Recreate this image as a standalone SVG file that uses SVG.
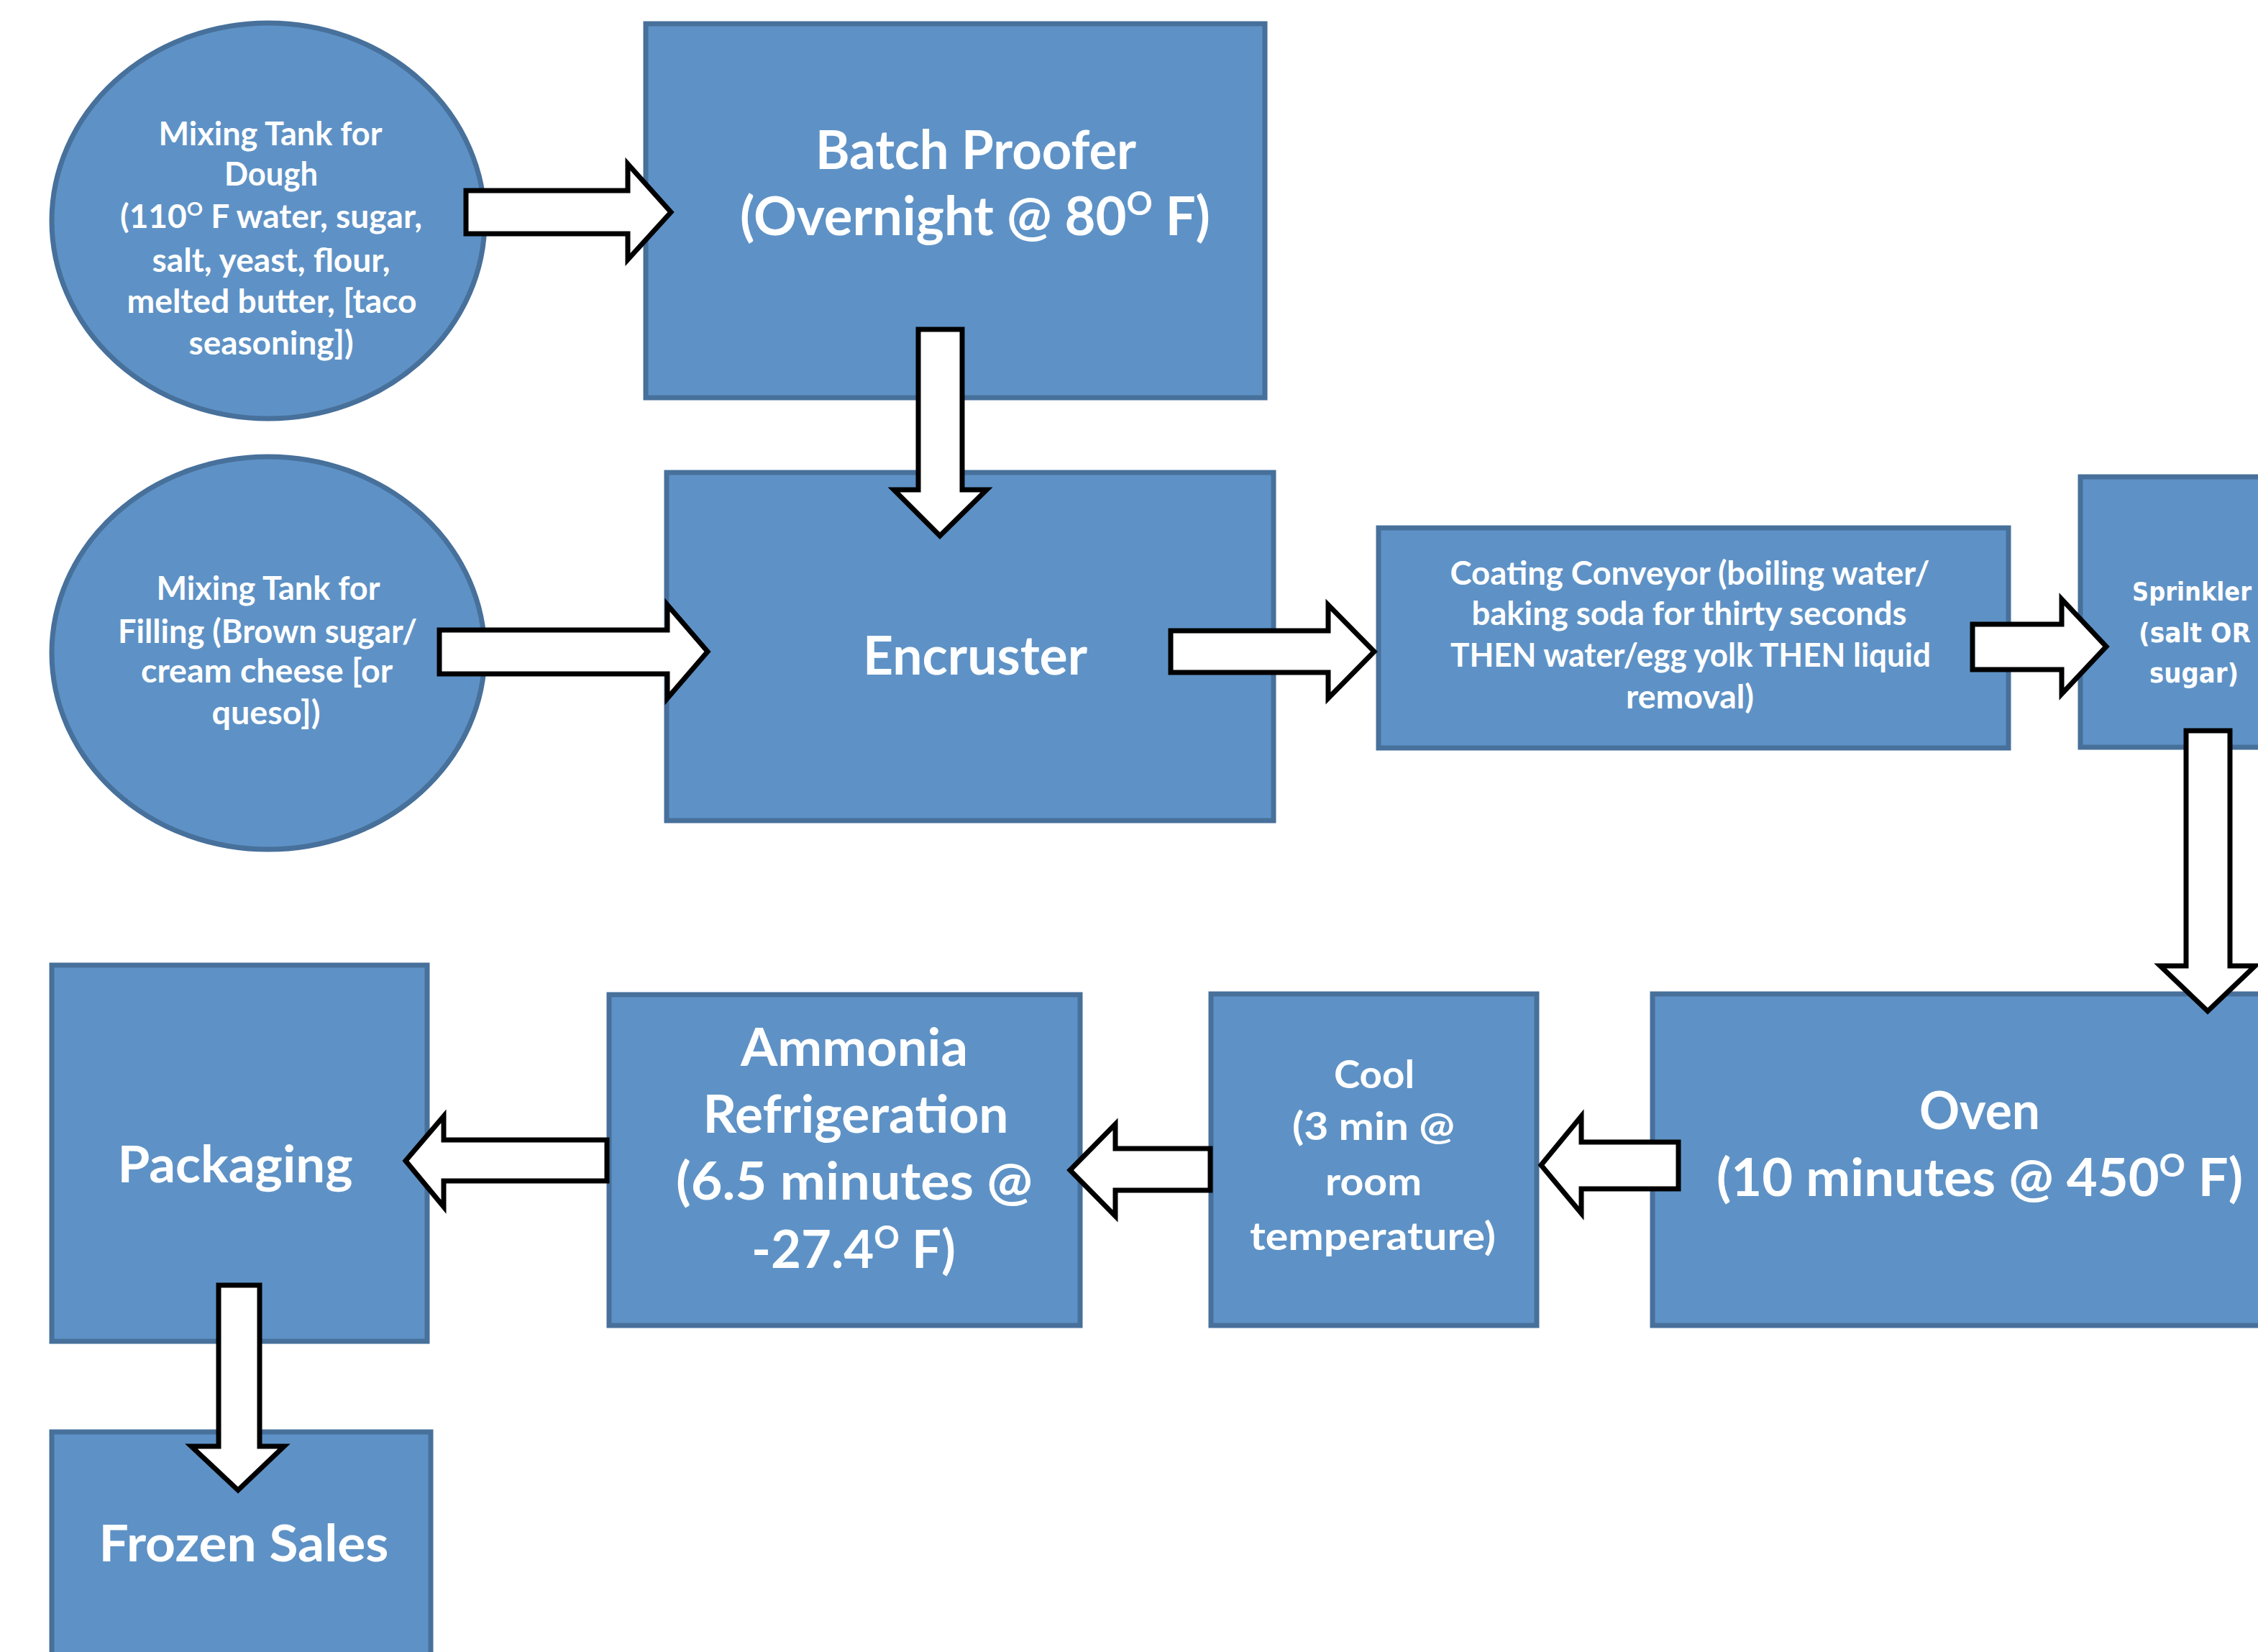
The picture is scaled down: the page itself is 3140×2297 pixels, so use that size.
<svg xmlns="http://www.w3.org/2000/svg" width="3140" height="2297" viewBox="0 0 3140 2297">
<style>
.box{fill:#5e92c6;stroke:#47709b;stroke-width:7}
.t{fill:#ffffff;font-family:Lato,"Open Sans","Liberation Sans",sans-serif;font-weight:bold;text-anchor:middle}
.s{fill:#ffffff;font-family:"DejaVu Sans Condensed","DejaVu Sans",sans-serif;font-weight:bold;text-anchor:middle}
.arr{fill:#ffffff;stroke:#000000;stroke-width:7;stroke-linejoin:miter}
</style>
<rect width="3140" height="2297" fill="#ffffff"/>

<g id="mix-dough">
<ellipse class="box" cx="373" cy="307" rx="301" ry="275"/>
<text class="t" font-size="45" x="376" y="202" textLength="311" lengthAdjust="spacingAndGlyphs">Mixing Tank for</text>
<text class="t" font-size="45" x="377" y="258" textLength="130" lengthAdjust="spacingAndGlyphs">Dough</text>
<text class="t" font-size="45" x="377" y="317" textLength="420" lengthAdjust="spacingAndGlyphs">(110<tspan font-size="27" dy="-17">O</tspan><tspan dy="17"> F water, sugar,</tspan></text>
<text class="t" font-size="45" x="377" y="378" textLength="331" lengthAdjust="spacingAndGlyphs">salt, yeast, flour,</text>
<text class="t" font-size="45" x="378" y="435" textLength="403" lengthAdjust="spacingAndGlyphs">melted butter, [taco</text>
<text class="t" font-size="45" x="377" y="493" textLength="229" lengthAdjust="spacingAndGlyphs">seasoning])</text>
</g>

<g id="batch-proofer">
<rect class="box" x="898" y="33" width="861" height="520"/>
<text class="t" font-size="75" x="1357" y="235" textLength="446" lengthAdjust="spacingAndGlyphs">Batch Proofer</text>
<text class="t" font-size="75" x="1356" y="327" textLength="654" lengthAdjust="spacingAndGlyphs">(Overnight @ 80<tspan font-size="45" dy="-28">O</tspan><tspan dy="28"> F)</tspan></text>
</g>

<g id="mix-filling">
<ellipse class="box" cx="373" cy="908" rx="301" ry="273"/>
<text class="t" font-size="45" x="373" y="834" textLength="311" lengthAdjust="spacingAndGlyphs">Mixing Tank for</text>
<text class="t" font-size="45" x="372" y="894" textLength="416" lengthAdjust="spacingAndGlyphs">Filling (Brown sugar/</text>
<text class="t" font-size="45" x="371" y="949" textLength="350" lengthAdjust="spacingAndGlyphs">cream cheese [or</text>
<text class="t" font-size="45" x="370" y="1007" textLength="151" lengthAdjust="spacingAndGlyphs">queso])</text>
</g>

<g id="encruster">
<rect class="box" x="927" y="657" width="844" height="484"/>
<text class="t" font-size="75" x="1356" y="938" textLength="312" lengthAdjust="spacingAndGlyphs">Encruster</text>
</g>

<g id="coating-conveyor">
<rect class="box" x="1917" y="734" width="876" height="306"/>
<text class="t" font-size="45" x="2350" y="813" textLength="667" lengthAdjust="spacingAndGlyphs">Coating Conveyor (boiling water/</text>
<text class="t" font-size="45" x="2349" y="869" textLength="605" lengthAdjust="spacingAndGlyphs">baking soda for thirty seconds</text>
<text class="t" font-size="45" x="2351" y="927" textLength="668" lengthAdjust="spacingAndGlyphs">THEN water/egg yolk THEN liquid</text>
<text class="t" font-size="45" x="2350" y="985" textLength="178" lengthAdjust="spacingAndGlyphs">removal)</text>
</g>

<g id="sprinkler">
<rect class="box" x="2893" y="663" width="300" height="376"/>
<text class="s" font-size="36" x="3048" y="835" textLength="166" lengthAdjust="spacingAndGlyphs">Sprinkler</text>
<text class="s" font-size="38" x="3052" y="893" textLength="156" lengthAdjust="spacingAndGlyphs">(salt OR</text>
<text class="s" font-size="38" x="3051" y="949" textLength="124" lengthAdjust="spacingAndGlyphs">sugar)</text>
</g>

<g id="oven">
<rect class="box" x="2298" y="1382" width="900" height="461"/>
<text class="t" font-size="73" x="2753" y="1570" textLength="168" lengthAdjust="spacingAndGlyphs">Oven</text>
<text class="t" font-size="73" x="2753" y="1663" textLength="732" lengthAdjust="spacingAndGlyphs">(10 minutes @ 450<tspan font-size="44" dy="-27">O</tspan><tspan dy="27"> F)</tspan></text>
</g>

<g id="cool">
<rect class="box" x="1684" y="1382" width="453" height="461"/>
<text class="t" font-size="54" x="1911" y="1513" textLength="112" lengthAdjust="spacingAndGlyphs">Cool</text>
<text class="t" font-size="54" x="1910" y="1585" textLength="226" lengthAdjust="spacingAndGlyphs">(3 min @</text>
<text class="t" font-size="54" x="1910" y="1662" textLength="134" lengthAdjust="spacingAndGlyphs">room</text>
<text class="t" font-size="54" x="1909" y="1738" textLength="342" lengthAdjust="spacingAndGlyphs">temperature)</text>
</g>

<g id="ammonia-refrigeration">
<rect class="box" x="847" y="1383" width="655" height="460"/>
<text class="t" font-size="73" x="1188" y="1482" textLength="316" lengthAdjust="spacingAndGlyphs">Ammonia</text>
<text class="t" font-size="73" x="1190" y="1575" textLength="425" lengthAdjust="spacingAndGlyphs">Refrigeration</text>
<text class="t" font-size="73" x="1188" y="1668" textLength="496" lengthAdjust="spacingAndGlyphs">(6.5 minutes @</text>
<text class="t" font-size="73" x="1187" y="1763" textLength="284" lengthAdjust="spacingAndGlyphs">-27.4<tspan font-size="44" dy="-27">O</tspan><tspan dy="27"> F)</tspan></text>
</g>

<g id="packaging">
<rect class="box" x="72" y="1342" width="522" height="523"/>
<text class="t" font-size="70" x="327" y="1644" textLength="327" lengthAdjust="spacingAndGlyphs">Packaging</text>
</g>

<g id="frozen-sales">
<rect class="box" x="72" y="1991" width="527" height="340"/>
<text class="t" font-size="70" x="339" y="2171" textLength="403" lengthAdjust="spacingAndGlyphs">Frozen Sales</text>
</g>

<g id="connectors">
<polygon class="arr" points="648,265 873,265 873,228 933,295 873,361 873,325 648,325"/>
<polygon class="arr" points="1277,458 1338,458 1338,681 1372,681 1307,745 1243,681 1277,681"/>
<polygon class="arr" points="611,876 928,876 928,841 984,906 928,971 928,937 611,937"/>
<polygon class="arr" points="1628,877 1847,877 1847,841 1911,906 1847,971 1847,935 1628,935"/>
<polygon class="arr" points="2743,868 2867,868 2867,833 2929,899 2867,965 2867,931 2743,931"/>
<polygon class="arr" points="3040,1016 3101,1016 3101,1343 3136,1343 3070,1406 3004,1343 3040,1343"/>
<polygon class="arr" points="2334,1588 2199,1588 2199,1552 2143,1620 2199,1687 2199,1653 2334,1653"/>
<polygon class="arr" points="1683,1597 1551,1597 1551,1563 1488,1627 1551,1691 1551,1655 1683,1655"/>
<polygon class="arr" points="844,1585 617,1585 617,1552 564,1614 617,1678 617,1642 844,1642"/>
<polygon class="arr" points="304,1787 361,1787 361,2011 395,2011 331,2072 266,2011 304,2011"/>
</g>
</svg>
